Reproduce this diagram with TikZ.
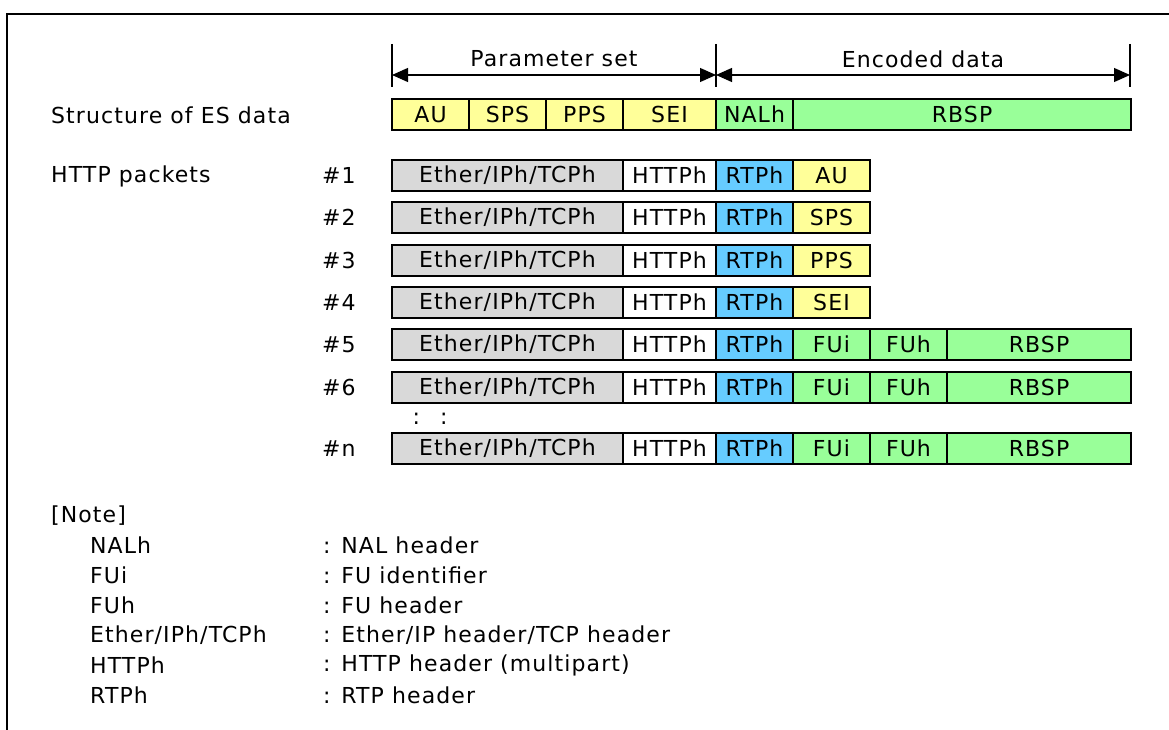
\documentclass[tikz,border=0pt]{standalone}
\usepackage{fontspec}
\setmainfont{DejaVu Sans}[LetterSpace=5]
\usetikzlibrary{arrows.meta,positioning}

\definecolor{esyellow}{HTML}{FFFF99}
\definecolor{esgreen}{HTML}{99FF99}
\definecolor{rtpblue}{HTML}{66CCFF}
\definecolor{hdrgray}{HTML}{D9D9D9}

\begin{document}
\begin{tikzpicture}[x=1pt, y=-1pt, font=\fontsize{22}{26}\selectfont,
  cell/.style={draw, line width=2pt, minimum height=31pt, inner sep=0pt, outer sep=0pt, anchor=north west},
  yel/.style={cell, fill=esyellow},
  grn/.style={cell, fill=esgreen},
  blu/.style={cell, fill=rtpblue},
  gry/.style={cell, fill=hdrgray},
  wht/.style={cell, fill=white},
  lbl/.style={anchor=west, inner sep=0pt},
  dim/.style={line width=1.2pt, {Triangle[length=16pt,width=14pt]}-{Triangle[length=16pt,width=14pt]}},
  tick/.style={line width=2pt}]

  \useasboundingbox (0,0) rectangle (1169,730);
  \draw[line width=1.6pt] (1169,14) -- (7,14) -- (7,730);

  % dimension lines
  \coordinate (ps-l) at (392,75);
  \coordinate (ps-r) at (716,75);
  \coordinate (ed-r) at (1130,75);
  \foreach \c in {ps-l,ps-r,ed-r}
    \draw[tick] ([yshift=31pt]\c) -- ([yshift=-12pt]\c);
  \draw[dim] (ps-l) -- (ps-r) node[midway, yshift=16pt] (ps-txt) {Parameter set};
  \draw[dim] (ps-r) -- (ed-r) node[midway, yshift=16pt] (ed-txt) {Encoded data};

  % ES data
  \node[lbl] (es-title) at (51,115) {Structure of ES data};
  \node[yel, minimum width=77pt] (es-au) at (392,99) {AU};
  \node[yel, minimum width=77pt, right=0pt of es-au] (es-sps) {SPS};
  \node[yel, minimum width=77pt, right=0pt of es-sps] (es-pps) {PPS};
  \node[yel, minimum width=93pt, right=0pt of es-pps] (es-sei) {SEI};
  \node[grn, minimum width=77pt, right=0pt of es-sei] (es-nal) {NALh};
  \node[grn, minimum width=338pt, right=0pt of es-nal] (es-rbsp) {RBSP};

  % packets
  \node[lbl] (pk-title) at (51,176) {HTTP packets};
  \foreach \top/\num/\pay in {160/1/AU, 202/2/SPS, 244.5/3/PPS, 287/4/SEI} {
    \node[lbl] (num\num) at (322,{\top+15.5}) {\#\num};
    \node[gry, minimum width=231pt] (eth\num) at (392,\top) {Ether/IPh/TCPh};
    \node[wht, minimum width=93pt, right=0pt of eth\num] (http\num) {HTTPh};
    \node[blu, minimum width=77pt, right=0pt of http\num] (rtp\num) {RTPh};
    \node[yel, minimum width=77pt, right=0pt of rtp\num] (pay\num) {\pay};
  }
  \foreach \top/\num in {329/5, 371.5/6, 433/n} {
    \node[lbl] (num\num) at (322,{\top+15.5}) {\#\num};
    \node[gry, minimum width=231pt] (eth\num) at (392,\top) {Ether/IPh/TCPh};
    \node[wht, minimum width=93pt, right=0pt of eth\num] (http\num) {HTTPh};
    \node[blu, minimum width=77pt, right=0pt of http\num] (rtp\num) {RTPh};
    \node[grn, minimum width=77pt, right=0pt of rtp\num] (fui\num) {FUi};
    \node[grn, minimum width=77pt, right=0pt of fui\num] (fuh\num) {FUh};
    \node[grn, minimum width=184pt, right=0pt of fuh\num] (rbsp\num) {RBSP};
  }
  \node (dots) at (430,419) {:\hspace{20pt}:};

  % notes
  \node[lbl] (note) at (51,516) {[Note]};
  \foreach \i/\abbr/\desc in {0/NALh/NAL header, 1/FUi/FU identifier, 2/FUh/FU header,
      3/{Ether/IPh/TCPh}/{Ether/IP header/TCP header}, 4/HTTPh/HTTP header (multipart), 5/RTPh/RTP header} {
    \node[lbl] (ab\i) at (90,{545+30*\i}) {\abbr};
    \node[lbl] (de\i) at (323,{545+30*\i}) {: \desc};
  }
\end{tikzpicture}
\end{document}
